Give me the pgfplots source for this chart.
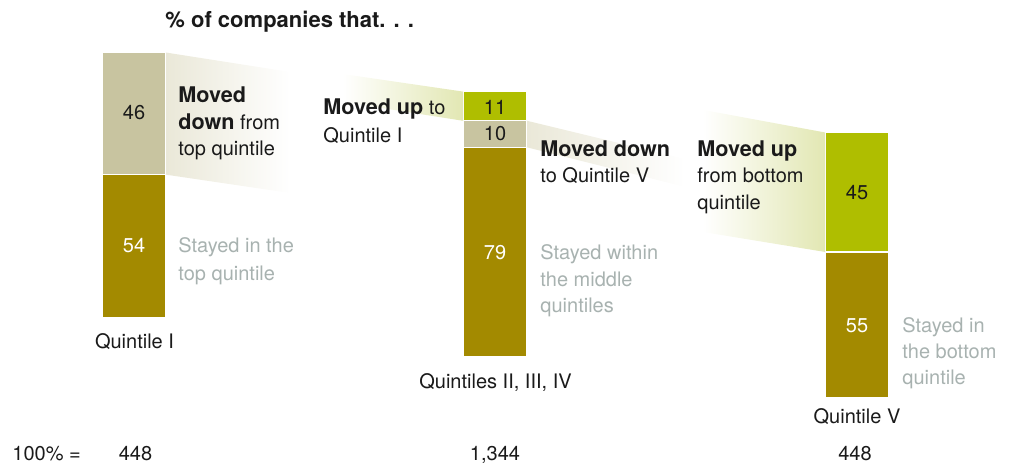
\documentclass[border=0pt]{standalone}
\usepackage{fontspec}
\setmainfont{TeX Gyre Heros}
\usepackage{pgfplots}
\pgfplotsset{compat=1.18}
\definecolor{qolive}{HTML}{A38A00}
\definecolor{qtan}{HTML}{C8C4A0}
\definecolor{qlime}{HTML}{AFBE00}
\definecolor{qlimelight}{HTML}{E2E7B3}
\definecolor{qtanlight}{HTML}{EAE8D8}
\definecolor{qgray}{HTML}{A8B2B0}
\definecolor{qtext}{HTML}{1A1A1A}
\newcommand\B[1]{{\fontsize{10.8}{13}\selectfont\bfseries #1}}
\newcommand\T[4]{\node[anchor=#1,inner sep=0pt,text=qtext] at (axis cs:#2,#3) {#4};}
\newcommand\G[4]{\node[anchor=#1,inner sep=0pt,text=qgray] at (axis cs:#2,#3) {#4};}
\newcommand\W[4]{\node[anchor=#1,inner sep=0pt,text=white] at (axis cs:#2,#3) {#4};}
\pgfplotsset{base/.style={
  scale only axis, width=506.5pt, height=231.5pt,
  xmin=0, xmax=1013, ymin=0, ymax=174.39,
  hide axis, clip=false,
  every node/.style={font=\fontsize{10}{13}\selectfont},
}}
\begin{document}
\begin{tikzpicture}
\begin{axis}[base, ybar stacked, bar width=64]
\coordinate (BBa) at (rel axis cs:0,0);
\coordinate (BBb) at (rel axis cs:1,1);
% wedges
\shade[left color=qtanlight, right color=white] (axis cs:166,154.6) -- (axis cs:290,147.3) -- (axis cs:290,101.7) -- (axis cs:166,108.6) -- cycle;
\shade[left color=white, middle color=qlimelight!85, right color=qlimelight] (axis cs:463,139.9) -- (axis cs:343,146.5) -- (axis cs:343,136.0) -- (axis cs:463,128.9) -- cycle;
\shade[left color=qtanlight, right color=white] (axis cs:527,128.9) -- (axis cs:685,114.5) -- (axis cs:685,104.0) -- (axis cs:527,118.9) -- cycle;
\shade[left color=white, middle color=qlimelight, right color=qlimelight] (axis cs:825,124.5) -- (axis cs:703,133.0) -- (axis cs:703,87.0) -- (axis cs:825,79.5) -- cycle;
% bars: invisible offset, then stayed, moved down, moved up
\addplot[draw=none, fill=none] coordinates {(134,54.6) (495,39.9) (857,24.5)};
\addplot[fill=qolive, draw=white, line width=0.6pt] coordinates {(134,54) (495,79) (857,55)};
\addplot[fill=qtan, draw=white, line width=0.6pt] coordinates {(134,46) (495,10) (857,0)};
\addplot[fill=qlime, draw=white, line width=0.6pt] coordinates {(134,0) (495,11) (857,45)};
\end{axis}
\begin{axis}[base]
% title
\T{base west}{165}{164.2}{{\fontsize{11}{13}\selectfont\bfseries \% of companies that. . .}}
% bar 1
\T{base}{134}{129.2}{46}
\W{base}{134}{79.1}{54}
\T{base west}{178}{135.6}{\B{Moved}}
\T{base west}{178}{125.8}{\B{down} from}
\T{base west}{178}{116.0}{top quintile}
\G{base west}{178}{79.1}{Stayed in the}
\G{base west}{178}{68.9}{top quintile}
\T{base}{134.5}{43.3}{Quintile I}
% bar 2
\T{base}{495}{131.4}{11}
\T{base}{495}{121.3}{10}
\W{base}{495}{76.5}{79}
\T{base west}{323}{131.1}{\B{Moved up} to}
\T{base west}{323}{120.9}{Quintile I}
\T{base west}{540}{115.6}{\B{Moved down}}
\T{base west}{540}{105.5}{to Quintile V}
\G{base west}{540}{76.5}{Stayed within}
\G{base west}{540}{66.3}{the middle}
\G{base west}{540}{56.5}{quintiles}
\T{base}{495.5}{28.2}{Quintiles II, III, IV}
% bar 3
\T{base}{857}{99.4}{45}
\W{base}{857}{49.3}{55}
\T{base west}{697}{115.6}{\B{Moved up}}
\T{base west}{697}{105.5}{from bottom}
\T{base west}{697}{95.3}{quintile}
\G{base west}{902}{49.3}{Stayed in}
\G{base west}{902}{39.5}{the bottom}
\G{base west}{902}{29.4}{quintile}
\T{base}{857}{14.7}{Quintile V}
% bottom row
\T{base west}{12}{1.0}{100\% =}
\T{base}{135.5}{1.0}{448}
\T{base}{495}{1.0}{1,344}
\T{base}{855}{1.0}{448}
\end{axis}
\pgfresetboundingbox
\path (BBa) rectangle (BBb);
\end{tikzpicture}
\end{document}
